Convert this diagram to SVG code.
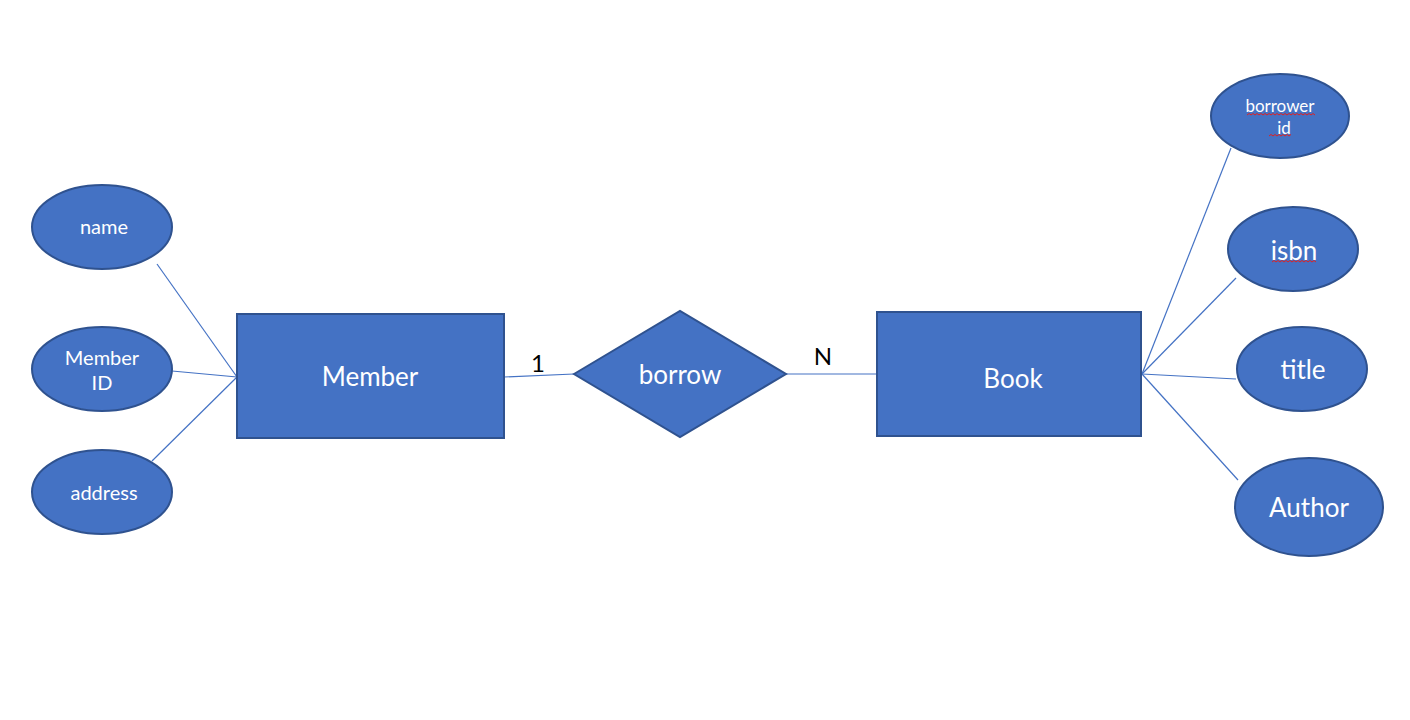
<svg xmlns="http://www.w3.org/2000/svg" width="1410" height="720" viewBox="0 0 1410 720">
<style>
.shape{fill:#4472C4;stroke:#2F528F;stroke-width:2}
.lbl{fill:#ffffff;font-family:Lato,"Open Sans",sans-serif;text-anchor:middle;dominant-baseline:central}
.card{fill:#000000;font-family:Lato,"Open Sans",sans-serif;text-anchor:middle;dominant-baseline:central;font-size:24px}
.conn{stroke:#4472C4;stroke-width:1.2;fill:none}
.sq{stroke:#E02020;stroke-width:1;fill:none}
</style>
<rect width="1410" height="720" fill="#ffffff"/>
<g id="connectors">
<line class="conn" x1="157" y1="264" x2="237" y2="377"/>
<line class="conn" x1="172" y1="371" x2="237" y2="377"/>
<line class="conn" x1="152" y1="461" x2="237" y2="377"/>
<line class="conn" x1="504" y1="377" x2="574" y2="374"/>
<line class="conn" x1="786" y1="374" x2="877" y2="374"/>
<line class="conn" x1="1142" y1="374" x2="1231" y2="148"/>
<line class="conn" x1="1142" y1="374" x2="1236" y2="278"/>
<line class="conn" x1="1142" y1="374" x2="1236" y2="379"/>
<line class="conn" x1="1142" y1="374" x2="1238" y2="480"/>
<text class="card" x="538" y="362">1</text>
<text class="card" x="823" y="355">N</text>
</g>
<g id="name">
<ellipse class="shape" cx="102" cy="227" rx="70" ry="42"/>
<text class="lbl" x="104" y="226" font-size="20">name</text>
</g>
<g id="member-id">
<ellipse class="shape" cx="102" cy="369" rx="70" ry="42"/>
<text class="lbl" x="102" y="357" font-size="20">Member</text>
<text class="lbl" x="102" y="382" font-size="20">ID</text>
</g>
<g id="address">
<ellipse class="shape" cx="102" cy="492" rx="70" ry="42"/>
<text class="lbl" x="104" y="492" font-size="20">address</text>
</g>
<g id="member">
<rect class="shape" x="237" y="314" width="267" height="124"/>
<text class="lbl" x="370" y="376" font-size="26">Member</text>
</g>
<g id="borrow">
<polygon class="shape" points="574,374 680,311 786,374 680,437"/>
<text class="lbl" x="680" y="374" font-size="26">borrow</text>
</g>
<g id="book">
<rect class="shape" x="877" y="312" width="264" height="124"/>
<text class="lbl" x="1013" y="378" font-size="26">Book</text>
</g>
<g id="borrower-id">
<ellipse class="shape" cx="1280" cy="116" rx="69" ry="42"/>
<text class="lbl" x="1280" y="105" font-size="17">borrower</text>
<text class="lbl" x="1284" y="127" font-size="17">id</text>
<path class="sq" d="M1247,115 l2,-1.5 l2,1.5 l2,-1.5 l2,1.5 l2,-1.5 l2,1.5 l2,-1.5 l2,1.5 l2,-1.5 l2,1.5 l2,-1.5 l2,1.5 l2,-1.5 l2,1.5 l2,-1.5 l2,1.5 l2,-1.5 l2,1.5 l2,-1.5 l2,1.5 l2,-1.5 l2,1.5 l2,-1.5 l2,1.5 l2,-1.5 l2,1.5 l2,-1.5 l2,1.5 l2,-1.5 l2,1.5 l2,-1.5 l2,1.5 l2,-1.5 l2,1.5"/>
<path class="sq" d="M1269,136 l2,-1.5 l2,1.5 l2,-1.5 l2,1.5 l2,-1.5 l2,1.5 l2,-1.5 l2,1.5 l2,-1.5 l2,1.5 l2,-1.5"/>
</g>
<g id="isbn">
<ellipse class="shape" cx="1293" cy="249" rx="65" ry="42"/>
<text class="lbl" x="1294" y="250" font-size="26">isbn</text>
<path class="sq" d="M1272,262 l2,-1.5 l2,1.5 l2,-1.5 l2,1.5 l2,-1.5 l2,1.5 l2,-1.5 l2,1.5 l2,-1.5 l2,1.5 l2,-1.5 l2,1.5 l2,-1.5 l2,1.5 l2,-1.5 l2,1.5 l2,-1.5 l2,1.5 l2,-1.5 l2,1.5 l2,-1.5 l2,1.5"/>
</g>
<g id="title">
<ellipse class="shape" cx="1302" cy="369" rx="65" ry="42"/>
<text class="lbl" x="1303" y="369" font-size="26">title</text>
</g>
<g id="author">
<ellipse class="shape" cx="1309" cy="507" rx="74" ry="49"/>
<text class="lbl" x="1309" y="507" font-size="26">Author</text>
</g>
</svg>
